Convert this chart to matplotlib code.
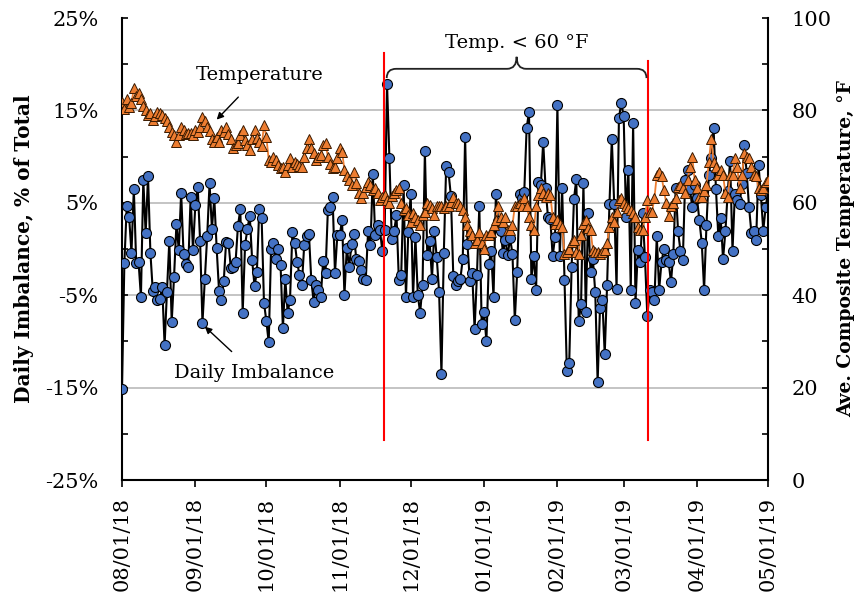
import numpy as np
import pandas as pd
import matplotlib
matplotlib.use("Agg")
import matplotlib.pyplot as plt
import matplotlib.dates as mdates
from matplotlib.path import Path
from matplotlib.patches import PathPatch

plt.rcParams['font.family'] = ['DejaVu Serif']

start_date = "2018-08-01"

imbalance = [
    -15.1, -1.5, 4.6, 3.5, -0.4, 6.5, -1.5, -1.4, -5.2, 7.5,
    1.7, 7.9, -0.4, -4.5, -4.1, -5.5, -5.4, -4.1, -10.4, -4.6,
    0.9, -7.9, -3.0, 2.7, -0.1, 6.1, -0.5, -1.6, -1.9, 5.6,
    -0.1, 4.8, 6.7, 0.9, -8.0, -3.2, 1.4, 7.1, 2.2, 5.5,
    0.1, -4.5, -5.5, -3.5, 0.8, 0.7, -2.1, -2.0, -1.4, 2.5,
    4.3, -6.9, 0.4, 2.2, 3.6, -1.2, -4.0, -2.5, 4.3, 3.4,
    -5.8, -7.8, -10.1, 0.0, 0.7, -1.1, 0.0, -1.7, -8.6, -3.2,
    -6.9, -5.5, 1.8, 0.7, -1.4, -2.8, -3.9, 0.4, 1.4, 1.6,
    -3.4, -5.7, -3.9, -4.4, -5.2, -1.3, -2.6, 4.2, 4.5, 5.6,
    -2.6, 1.5, 1.5, 3.1, -5.0, 0.1, -1.9, 0.5, 1.6, -1.1,
    -1.3, -2.3, -3.2, -3.4, 1.9, 0.4, 8.1, 1.5, 2.6, 2.1,
    -0.2, 2.1, 17.9, 9.9, 1.1, 1.9, 3.7, -3.4, -2.8, 6.9,
    -5.2, 1.8, 6.0, -5.2, 1.3, -5.0, -6.9, -3.9, 10.6, -0.6,
    0.9, -3.2, 2.0, -0.9, -4.6, -13.5, -0.4, 9.0, 8.3, 5.7,
    -2.9, -3.9, -3.5, -3.2, -1.1, 12.1, 0.5, -3.5, -2.6, -8.7,
    -2.8, 4.6, -8.1, -6.8, -10.0, -1.6, -0.2, -5.2, 5.9, 3.0,
    2.0, -0.4, 1.0, -0.7, 1.2, -0.5, -7.7, -2.5, 6.0, 5.5,
    6.2, 13.1, 14.8, -3.2, -0.8, -4.4, 7.2, 6.9, 11.6, 6.6,
    3.5, 3.3, -0.8, 1.3, 15.6, -0.8, 6.6, -3.4, -13.2, -12.3,
    -2.0, 5.4, 7.6, -7.8, -6.0, 7.1, -6.8, 3.9, -2.5, -1.1,
    -4.7, -14.4, -6.4, -5.5, -11.4, -3.9, 4.9, 11.9, 4.9, -4.3,
    14.2, 15.8, 14.4, 3.5, 8.6, -4.4, 13.6, -5.8, -0.1, -1.4,
    3.9, -0.9, -7.3, -4.4, -4.6, -5.5, 1.4, -4.4, -1.4, 0.0,
    -1.2, -1.4, -3.6, -0.5, 6.6, 1.9, -0.2, -1.2, 7.5, 8.6,
    6.5, 4.5, 6.9, 5.5, 3.1, 0.7, -4.4, 2.6, 8.0, 9.8,
    13.1, 6.5, 1.4, 3.4, -1.1, 1.9, 6.3, 9.5, -0.2, 6.0,
    5.3, 4.9, 7.0, 11.3, 8.2, 4.5, 1.7, 1.9, 1.0, 9.1,
    5.8, 2.0, 4.5, 6.2,
]

temperature = [
    81.9, 80.2, 82.4, 80.8, 81.5, 84.8, 83.1, 83.7, 82.4, 81.0,
    80.0, 79.0, 79.4, 77.9, 78.8, 79.7, 79.4, 79.0, 78.3, 77.6,
    76.5, 75.4, 74.7, 73.2, 74.7, 76.5, 75.8, 75.0, 75.2, 75.2,
    74.7, 75.8, 75.4, 76.5, 78.6, 77.6, 76.5, 75.6, 73.9, 73.2,
    74.3, 73.2, 75.8, 75.4, 76.5, 75.0, 73.9, 71.8, 72.5, 72.9,
    74.7, 75.8, 73.6, 72.5, 71.4, 73.9, 75.8, 74.0, 73.2, 72.2,
    76.8, 74.3, 69.3, 68.9, 70.0, 69.3, 68.2, 67.5, 67.8, 66.7,
    68.2, 69.6, 67.8, 68.9, 68.5, 68.0, 67.8, 70.0, 71.8, 73.9,
    71.8, 70.7, 69.3, 70.0, 70.3, 72.5, 72.9, 70.0, 68.5, 67.5,
    67.8, 69.6, 71.8, 71.1, 67.1, 65.7, 65.0, 63.9, 66.7, 64.2,
    62.1, 61.0, 62.1, 63.5, 64.6, 63.9, 62.8, 63.1, 62.1, 60.6,
    61.3, 61.7, 60.5, 59.9, 61.5, 62.1, 62.8, 63.1, 59.9, 58.4,
    58.8, 57.4, 55.9, 57.7, 57.0, 56.3, 55.2, 57.4, 58.1, 59.9,
    59.5, 58.8, 57.4, 59.2, 59.2, 59.2, 58.8, 59.2, 59.2, 60.2,
    61.3, 59.9, 59.9, 59.2, 58.4, 57.0, 55.2, 54.0, 53.0, 51.2,
    51.9, 53.7, 51.2, 50.1, 53.0, 53.0, 53.7, 55.2, 56.3, 59.2,
    57.0, 55.9, 57.0, 54.1, 54.1, 55.2, 59.2, 59.2, 59.9, 59.2,
    61.0, 59.2, 57.0, 55.2, 54.1, 59.2, 61.7, 63.1, 62.1, 61.3,
    62.1, 61.7, 57.0, 55.5, 56.3, 55.5, 54.8, 49.0, 49.4, 50.1,
    51.6, 52.0, 49.4, 49.0, 53.0, 55.5, 56.3, 54.5, 54.1, 49.8,
    49.4, 49.4, 49.0, 49.4, 49.8, 51.2, 54.8, 57.0, 55.9, 58.1,
    60.6, 61.0, 59.9, 59.2, 58.8, 58.4, 57.7, 57.0, 54.8, 54.1,
    54.1, 57.0, 60.6, 58.1, 58.1, 61.0, 66.0, 66.7, 65.7, 62.8,
    59.9, 57.2, 59.2, 59.9, 61.0, 63.5, 63.9, 63.1, 62.1, 64.9,
    67.8, 70.0, 64.9, 63.1, 61.3, 61.3, 62.5, 63.9, 68.9, 73.9,
    68.9, 67.8, 66.0, 67.1, 66.0, 62.1, 61.3, 66.0, 66.0, 69.6,
    67.8, 63.1, 66.0, 70.7, 70.0, 69.6, 67.8, 66.0, 65.7, 63.1,
    62.8, 63.1, 64.6, 64.9,
]

x_ticks = pd.date_range("2018-08-01", "2019-05-01", freq="MS")
left_ticks = [-25, -15, -5, 5, 15, 25]
left_minor = [-20, -10, 0, 10, 20]
right_ticks = [0, 20, 40, 60, 80, 100]
right_minor = [10, 30, 50, 70, 90]
cold_start = pd.Timestamp("2018-11-19 16:00")
cold_end = pd.Timestamp("2019-03-11 06:00")

dates = pd.date_range(start_date, periods=len(imbalance), freq="D")

fig = plt.figure(figsize=(8.59, 6.04), dpi=100)
W, H = 859, 604
L, R, T, B = 122, 768, 18, 480
ax = fig.add_axes([L / W, (H - B) / H, (R - L) / W, (B - T) / H])
ax2 = ax.twinx()

FS = 15

# gridlines
for v in [-15, -5, 5, 15]:
    ax.axhline(v, color="#BFBFBF", lw=1.3, zorder=0)

ax.plot(dates, imbalance, color="black", lw=1.5, marker="o", ms=7.2,
        mfc="#4472C4", mec="black", mew=0.8, zorder=3)
ax2.plot(dates, temperature, color="#ED7D31", lw=1.3, marker="^", ms=7.0,
         mfc="#ED7D31", mec="#3a1a00", mew=0.7, zorder=4)

ax.set_xlim(pd.Timestamp("2018-08-01"), pd.Timestamp("2019-05-01"))
ax.set_ylim(-25, 25)
ax2.set_ylim(0, 100)

ax.set_xticks(x_ticks)
ax.xaxis.set_major_formatter(mdates.DateFormatter("%m/%d/%y"))
for lab in ax.get_xticklabels():
    lab.set_rotation(90)
ax.tick_params(axis="x", direction="out", length=5, width=1.2, pad=7, labelsize=FS)

ax.set_yticks(left_ticks)
ax.set_yticklabels([f"{v}%" for v in left_ticks])
ax.set_yticks(left_minor, minor=True)
ax.tick_params(axis="y", which="both", direction="in", length=4, width=1.2, pad=17, labelsize=FS)

ax2.set_yticks(right_ticks)
ax2.set_yticks(right_minor, minor=True)
ax2.tick_params(axis="y", which="both", direction="in", length=4, width=1.2, pad=17, labelsize=FS)

for a in (ax, ax2):
    a.spines["top"].set_visible(False)
    for s in ("left", "right", "bottom"):
        a.spines[s].set_linewidth(1.5)
ax2.spines["left"].set_visible(False)
ax2.spines["bottom"].set_visible(False)
ax.spines["right"].set_visible(False)

ax.set_ylabel("Daily Imbalance, % of Total", fontsize=14.5, fontweight="bold")
ax.yaxis.set_label_coords(-(L - 34) / (R - L), 0.5)
ax2.set_ylabel("Ave. Composite Temperature, °F", fontsize=13.5, fontweight="bold")
ax2.yaxis.set_label_coords((837 - L) / (R - L), 0.5)

# red boundary lines
ax.plot([cold_start, cold_start], [-20.7, 21.2], color="red", lw=1.5, zorder=5)
ax.plot([cold_end, cold_end], [-20.7, 20.4], color="red", lw=1.5, zorder=5)

# brace
x0 = mdates.date2num(cold_start) + 1.2
x1 = mdates.date2num(cold_end) - 0.6
xc = (x0 + x1) / 2
yb, ye, yt = 19.5, 18.5, 20.8
r = 4.0
verts = [(x0, ye), (x0, yb), (x0 + r, yb),
         (xc - r, yb), (xc, yb), (xc, yt),
         (xc, yb), (xc + r, yb),
         (x1 - r, yb), (x1, yb), (x1, ye)]
codes = [Path.MOVETO, Path.CURVE3, Path.CURVE3,
         Path.LINETO, Path.CURVE3, Path.CURVE3,
         Path.CURVE3, Path.CURVE3,
         Path.LINETO, Path.CURVE3, Path.CURVE3]
ax.add_patch(PathPatch(Path(verts, codes), fill=False, lw=1.3, edgecolor="#222222",
                       zorder=5, clip_on=False))
ax.text(mdates.num2date(xc), 22.3, "Temp. < 60 °F", ha="center", va="center", fontsize=14)

# annotations
d0 = pd.Timestamp(start_date)
ax.annotate("Temperature", xy=(d0 + pd.Timedelta(days=40), 14.0),
            xytext=(d0 + pd.Timedelta(days=58), 18.8), ha="center", va="center",
            fontsize=14, zorder=6,
            arrowprops=dict(arrowstyle="-|>", color="black", lw=1.0,
                            mutation_scale=10, shrinkA=10, shrinkB=0))
ax.annotate("Daily Imbalance", xy=(d0 + pd.Timedelta(days=35), -8.4),
            xytext=(d0 + pd.Timedelta(days=56), -13.4), ha="center", va="center",
            fontsize=14, zorder=6,
            arrowprops=dict(arrowstyle="-|>", color="black", lw=1.0,
                            mutation_scale=10, shrinkA=10, shrinkB=0))

fig.savefig("out.png", dpi=100)
